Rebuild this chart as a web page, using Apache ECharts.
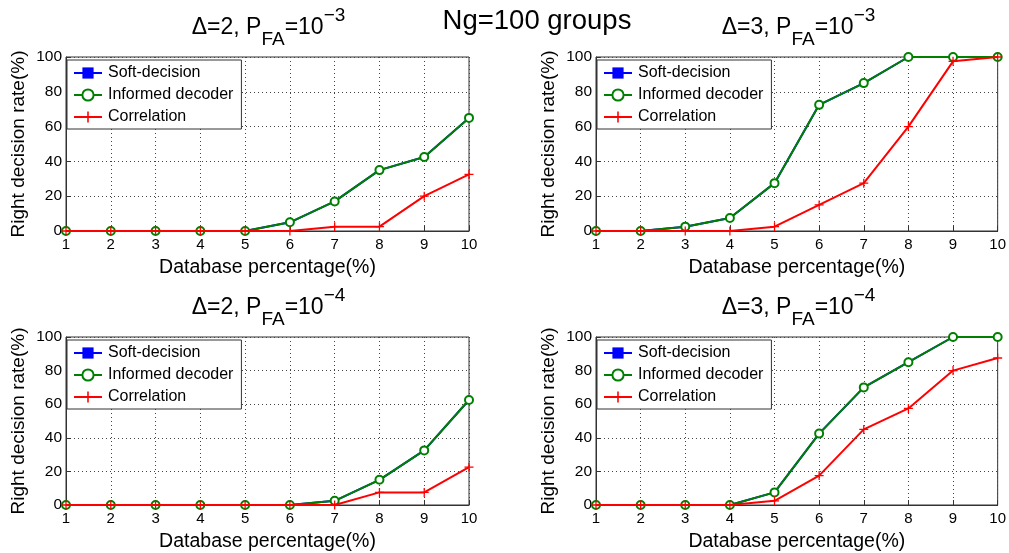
<!DOCTYPE html>
<html><head><meta charset="utf-8">
<script src="https://cdn.jsdelivr.net/npm/echarts@6/dist/echarts.min.js"></script>
<style>html,body{margin:0;padding:0;background:#fff}#c{width:1009px;height:553px}</style>
</head><body><div id="c"></div>
<script>
const xCats = [1,2,3,4,5,6,7,8,9,10];
const yTicks = [0,20,40,60,80,100];
const seriesNames = ['Soft-decision','Informed decoder','Correlation'];
const panelTitles = [['2','-3'],['3','-3'],['2','-4'],['3','-4']];
// panel 1: Δ=2, PFA=1e-3
const soft1 = [0,0,0,0,0,5,17,35,42.5,65];
const informed1 = [0,0,0,0,0,5,17,35,42.5,65];
const corr1 = [0,0,0,0,0,0,2.5,2.5,20,32.5];
// panel 2: Δ=3, PFA=1e-3
const soft2 = [0,0,2.5,7.5,27.5,72.5,85,100,100,100];
const informed2 = [0,0,2.5,7.5,27.5,72.5,85,100,100,100];
const corr2 = [0,0,0,0,2.5,15,27.5,60,97.5,100];
// panel 3: Δ=2, PFA=1e-4
const soft3 = [0,0,0,0,0,0,2.5,15,32.5,62.5];
const informed3 = [0,0,0,0,0,0,2.5,15,32.5,62.5];
const corr3 = [0,0,0,0,0,0,0,7.5,7.5,22.5];
// panel 4: Δ=3, PFA=1e-4
const soft4 = [0,0,0,0,7.5,42.5,70,85,100,100];
const informed4 = [0,0,0,0,7.5,42.5,70,85,100,100];
const corr4 = [0,0,0,0,2.5,17.5,45,57.5,80,87.5];
const panelData = [[soft1,informed1,corr1],[soft2,informed2,corr2],[soft3,informed3,corr3],[soft4,informed4,corr4]];

const FONT = 'Liberation Sans, Arial, sans-serif';
const grids = [
  {left:66, top:57, width:403, height:174},
  {left:596, top:57, width:403, height:174},
  {left:66, top:337, width:403, height:174},
  {left:596, top:337, width:403, height:174}
];
const colors = ['#0000ff','#008000','#ff0000'];
const plusPath = 'path://M4.3,0h1.4v10h-1.4zM0,4.3h10v1.4h-10z';
const symbols = ['rect','emptyCircle',plusPath];
const symbolSizes = [6,8,9];

const option = {
  backgroundColor:'#fff',
  animation:false,
  textStyle:{fontFamily:FONT},
  title: [{
    text:'Ng=100 groups', left:532, top:2, textAlign:'center',
    textStyle:{fontFamily:FONT, fontSize:27.5, fontWeight:'normal', color:'#000'}
  }].concat(grids.map((g,i)=>({
    text:'{a|Δ=' + panelTitles[i][0] + ', P}{sub|FA}{a|=10}{sup|' + panelTitles[i][1].replace('-','−') + '}',
    left: g.left + g.width/2 - 4, top: g.top - 56, textAlign:'center',
    textStyle:{fontWeight:'normal', rich:{
      a:{fontFamily:FONT, fontSize:23, fontWeight:'normal', color:'#000', lineHeight:43, verticalAlign:'middle'},
      sub:{fontFamily:FONT, fontSize:19, fontWeight:'normal', color:'#000', lineHeight:43, verticalAlign:'bottom'},
      sup:{fontFamily:FONT, fontSize:19, fontWeight:'normal', color:'#000', lineHeight:43, verticalAlign:'top'}
    }}
  }))),
  grid: grids.map(g=>Object.assign({show:true, borderColor:'#333', borderWidth:1, backgroundColor:'#fff'}, g)),
  legend: grids.map((g,i)=>({
    data: seriesNames, orient:'vertical', left:g.left+1, top:g.top+3,
    backgroundColor:'#fff', borderColor:'#333', borderWidth:1, borderRadius:0,
    padding:[5,8,4,6], itemGap:6, itemWidth:28, itemHeight:14,
    textStyle:{fontFamily:FONT, fontSize:16, color:'#000', padding:[0,0,0,1]},
    selectedMode:false
  })),
  xAxis: grids.map((g,i)=>({
    gridIndex:i, type:'value', min:1, max:10, interval:1,
    name:'Database percentage(%)', nameLocation:'middle', nameGap:27,
    nameTextStyle:{fontFamily:FONT, fontSize:19.5, color:'#000'},
    axisLine:{show:true, onZero:false, lineStyle:{color:'#333'}},
    axisTick:{show:true, inside:true, length:5, lineStyle:{color:'#333'}},
    axisLabel:{fontFamily:FONT, fontSize:15, color:'#000', margin:6},
    splitLine:{show:true, lineStyle:{color:'#444', type:[1,3], width:1}}
  })),
  yAxis: grids.map((g,i)=>({
    gridIndex:i, type:'value', min:0, max:100, interval:20,
    name:'Right decision rate(%)', nameLocation:'middle', nameGap:38,
    nameTextStyle:{fontFamily:FONT, fontSize:19, color:'#000'},
    axisLine:{show:true, lineStyle:{color:'#333'}},
    axisTick:{show:true, inside:true, length:5, lineStyle:{color:'#333'}},
    axisLabel:{fontFamily:FONT, fontSize:15.5, color:'#000', margin:4,
      formatter:(v)=> yTicks.indexOf(v)>=0 ? String(v) : ''},
    splitLine:{show:true, lineStyle:{color:'#444', type:[1,3], width:1}}
  })),
  series: []
};
panelData.forEach((arrs,i)=>{
  arrs.forEach((arr,k)=>{
    option.series.push({
      name: seriesNames[k], type:'line', xAxisIndex:i, yAxisIndex:i,
      data: arr.map((v,j)=>[xCats[j], v]),
      symbol: symbols[k], symbolSize: symbolSizes[k], showAllSymbol:true,
      lineStyle:{color:colors[k], width:2},
      itemStyle:{color:colors[k], borderColor:colors[k], borderWidth: k===1?2:0},
      z: 2+k
    });
  });
});
const chart = echarts.init(document.getElementById('c'), null, {renderer:'canvas'});
chart.setOption(option);
</script></body></html>
